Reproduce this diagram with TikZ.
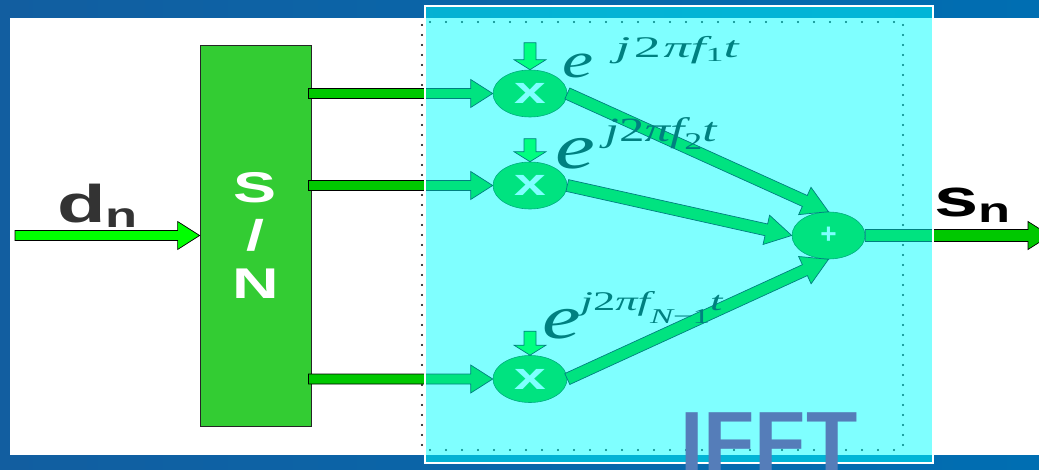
\documentclass[tikz,border=0pt]{standalone}
\usepackage{fontspec}
\usepackage{graphicx}
\newfontfamily\widesans[FakeStretch=1.5]{Liberation Sans}
\newfontfamily\plainsans{Liberation Sans}
\newfontfamily\carrierfont{Liberation Serif}
\usetikzlibrary{positioning,calc,shapes.geometric}

\definecolor{slideblue}{RGB}{0,110,178}
\definecolor{slidebluedark}{RGB}{18,94,160}
\definecolor{blockgreen}{RGB}{51,204,51}
\definecolor{linegreen}{RGB}{0,200,0}
\definecolor{feedgreen}{RGB}{0,255,0}
\definecolor{ifftcyan}{RGB}{0,255,255}
\definecolor{ifftblue}{RGB}{85,125,185}
\definecolor{labelgray}{RGB}{51,51,51}

\tikzset{
    fat body/.store in=\fatbody, fat head/.store in=\fathead, fat tip/.store in=\fattip,
    fat body=5, fat head=14, fat tip=22,
    fatarrow/.style = {draw=black, line width=0.7pt, fill=linegreen, line join=miter},
    block/.style = {draw=black!85, fill=blockgreen, line width=0.8pt,
        minimum width=111pt, minimum height=381pt, align=center, text=white,
        font=\widesans\bfseries\fontsize{43}{48}\selectfont},
    mult/.style = {ellipse, draw=green!35!black, fill=linegreen, line width=0.6pt,
        minimum width=74pt, minimum height=47pt, inner sep=0pt, text=white,
        font=\widesans\bfseries\fontsize{38}{38}\selectfont},
    signal/.style = {anchor=base west, inner sep=0pt,
        font=\widesans\bfseries\fontsize{53}{53}\selectfont},
    carrier/.style = {anchor=base west, inner sep=0pt, text=black, font=\carrierfont\itshape},
    dotline/.style = {line width=2.4pt, line cap=round}
}

% block arrow between two points, body and head sizes from the fat keys
\newcommand{\fatarrow}[3][]{%
    \filldraw[fatarrow,#1] let \p1=($(#3)-(#2)$), \n1={atan2(\y1,\x1)}, \n2={veclen(\x1,\y1)} in
        {[shift={(#2)}, rotate=\n1]
        (0,\fatbody) -- (\n2-\fattip,\fatbody) -- (\n2-\fattip,\fathead) -- (\n2,0)
        -- (\n2-\fattip,-\fathead) -- (\n2-\fattip,-\fatbody) -- (0,-\fatbody) -- cycle};
}
% big e of a carrier
\newcommand{\bige}[1]{{\fontsize{#1}{#1}\selectfont\scalebox{1.4}[1]{e}}}
% subscript n of a signal name
\newcommand{\subn}[1]{\raisebox{-#1pt}{\fontsize{35}{35}\selectfont n}}

\begin{document}
\begin{tikzpicture}[x=1pt, y=-1pt]
    \useasboundingbox (0,0) rectangle (1039,470);
    % slide frame
    \shade[left color=slidebluedark, right color=slideblue] (0,0) rectangle (1039,470);
    \fill[white] (10,18) rectangle (1039,455);
    % dotted frame of the transform
    \draw[dotline, dash pattern=on 0pt off 10pt] (422,25) -- (422,455) (903,25) -- (903,452);
    \draw[dotline, dash pattern=on 0pt off 16pt] (430,22) -- (903,22) (430,450) -- (903,450);

    % serial to parallel
    \node[block] (sp) at (255.5,235.5) {S\\/\\N};
    \coordinate (din) at (15,235.5);
    \fatarrow[fill=feedgreen]{din}{sp.west}
    \node[signal, text=labelgray] (dlab) at (57,223) {d\subn{5}};

    % multipliers and adder
    \node[mult] (m1) at (530,93.5) {x};
    \node[mult] (m2) at (530,185.5) {x};
    \node[mult] (m3) at (530,379) {x};
    \node[mult, minimum width=73pt, font=\plainsans\bfseries\fontsize{28}{28}\selectfont] (sum) at (828.5,235.5) {+};

    \foreach \i/\d in {1/27,2/23,3/24}{
        \coordinate (p\i) at ($(sp.east |- m\i)+(-3,0)$);
        \fatarrow{p\i}{m\i.west}
        \coordinate[above=\d pt of m\i] (c\i);
        \fatarrow[fill=feedgreen, fat body=6, fat head=16, fat tip=10]{c\i}{m\i.north}
    }
    \fatarrow[fat body=6, fat head=15, fat tip=26]{m1.east}{sum.north}
    \fatarrow[fat body=6, fat head=15, fat tip=26]{m2.east}{sum.west}
    \fatarrow[fat body=6, fat head=15, fat tip=26]{m3.east}{sum.south}

    % carriers
    \node[carrier] (l1) at (562,78) {\bige{50}\hspace{22pt}%
        \raisebox{20pt}{\scalebox{1.8}[1]{\fontsize{30}{30}\selectfont j\hspace{2pt}\upshape 2\hspace{1.5pt}\itshape πf%
        \raisebox{-4pt}{\upshape\fontsize{20}{20}\selectfont 1}t}}};
    \node[carrier] (l2) at (555,169) {\bige{64}\hspace{10pt}%
        \raisebox{27pt}{\scalebox{1.5}[1]{\fontsize{34}{34}\selectfont j\upshape 2\itshape πf%
        \raisebox{-8pt}{\upshape\fontsize{24}{24}\selectfont 2}t}}};
    \node[carrier] (l3) at (542,338) {\bige{62}%
        \raisebox{28pt}{\scalebox{1.65}[1]{\fontsize{27}{27}\selectfont j\upshape 2\itshape πf%
        \raisebox{-14pt}{\fontsize{21}{21}\selectfont N\upshape −1}t}}};

    % output
    \coordinate (sout) at (1050,235.5);
    \fatarrow[fat body=6]{sum.east}{sout}
    \node[signal, text=black] (slab) at (934,217) {s\subn{6}};

    % IFFT box over the carriers
    \draw[white, line width=2pt, fill=ifftcyan, fill opacity=0.5] (425,6) rectangle (933,463);
    \node[anchor=base west, inner sep=0pt, text=ifftblue,
        font=\plainsans\bfseries\fontsize{84}{84}\selectfont] (ifft) at (680,470) {IFFT};
\end{tikzpicture}
\end{document}
